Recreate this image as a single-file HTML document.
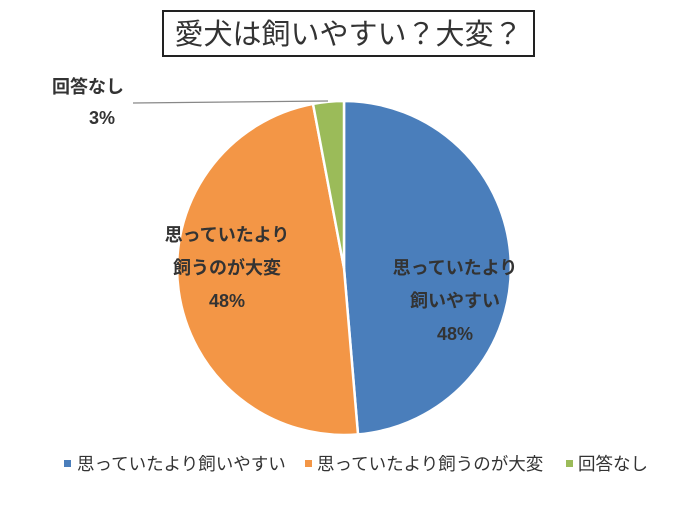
<!DOCTYPE html>
<html><head><meta charset="utf-8"><style>
body{margin:0;background:#fff;}
svg text{font-family:"Liberation Sans","Noto Sans CJK JP",sans-serif;}
</style></head><body>
<svg width="698" height="512" xmlns="http://www.w3.org/2000/svg">
<rect width="698" height="512" fill="#fff"/>
<rect x="163" y="11" width="371" height="45" fill="#fff" stroke="#222" stroke-width="2"/>
<text x="348.5" y="44" font-size="29" text-anchor="middle" fill="#333">愛犬は飼いやすい？大変？</text>
<g stroke="#fff" stroke-width="2.5">
<path d="M344,268 L344,101 A167,167 0 0 1 358,434.4 Z" fill="#4a7ebb"/>
<path d="M344,268 L358,434.4 A167,167 0 0 1 313,103.9 Z" fill="#f39646"/>
<path d="M344,268 L313,103.9 A167,167 0 0 1 344,101 Z" fill="#9bbb59"/>
</g>
<line x1="133" y1="103" x2="328" y2="101" stroke="#888" stroke-width="1.2"/>
<g font-size="18" font-weight="bold" fill="#333" text-anchor="middle">
<text x="88" y="93">回答なし</text>
<text x="102" y="124">3%</text>
<text x="227" y="241">思っていたより</text>
<text x="227" y="274">飼うのが大変</text>
<text x="227" y="307">48%</text>
<text x="455" y="274">思っていたより</text>
<text x="455" y="307">飼いやすい</text>
<text x="455" y="340">48%</text>
</g>
<g font-size="17.5" fill="#333">
<rect x="64" y="460" width="7" height="7" fill="#4a7ebb"/>
<text x="77" y="470">思っていたより飼いやすい</text>
<rect x="305" y="460" width="7" height="7" fill="#f39646"/>
<text x="317" y="470">思っていたより飼うのが大変</text>
<rect x="566" y="460" width="7" height="7" fill="#9bbb59"/>
<text x="578" y="470">回答なし</text>
</g>
</svg>
</body></html>
